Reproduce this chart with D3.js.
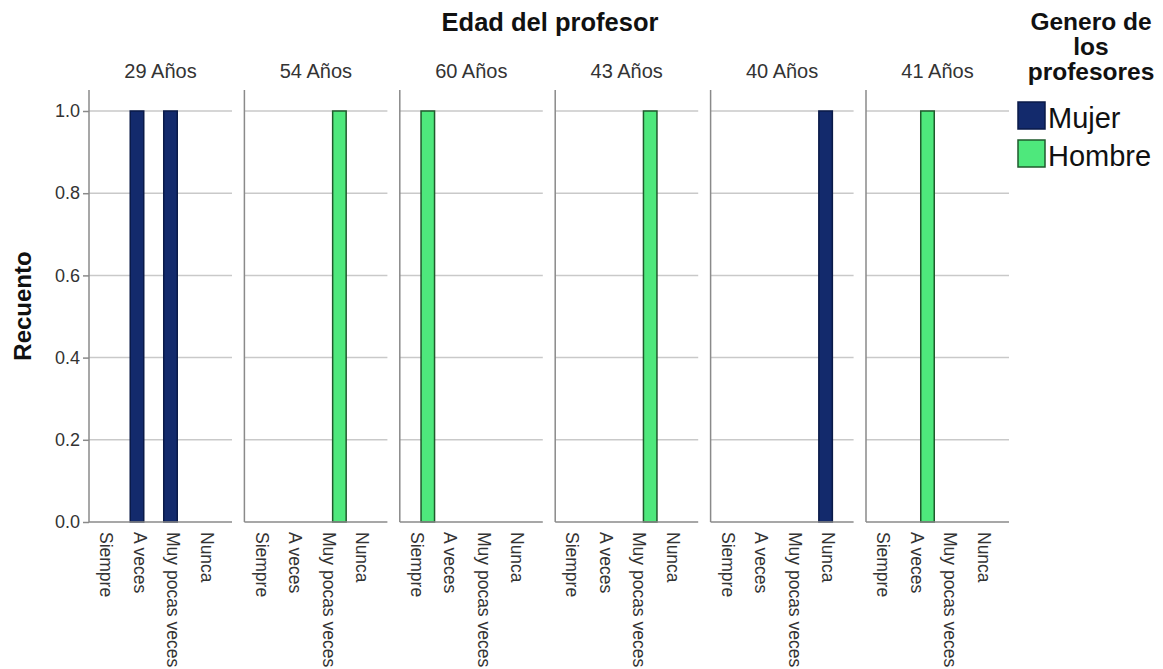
<!DOCTYPE html>
<html>
<head>
<meta charset="utf-8">
<script src="https://cdn.jsdelivr.net/npm/d3@7"></script>
<style>
  html, body { margin: 0; padding: 0; background: #ffffff; }
  svg { display: block; font-family: Arial, "Liberation Sans", sans-serif; }
</style>
</head>
<body>
<svg id="chart" width="1163" height="669"></svg>
<script>
// ---- Data ----
const ages = ["29 Años", "54 Años", "60 Años", "43 Años", "40 Años", "41 Años"];
const categories = ["Siempre", "A veces", "Muy pocas veces", "Nunca"];
const genders = ["Mujer", "Hombre"];
// counts per panel (age), per category
const mujerCounts = [
  [0, 1, 1, 0],
  [0, 0, 0, 0],
  [0, 0, 0, 0],
  [0, 0, 0, 0],
  [0, 0, 0, 1],
  [0, 0, 0, 0]
];
const hombreCounts = [
  [0, 0, 0, 0],
  [0, 0, 1, 0],
  [1, 0, 0, 0],
  [0, 0, 1, 0],
  [0, 0, 0, 0],
  [0, 1, 0, 0]
];
const yTicks = [0, 0.2, 0.4, 0.6, 0.8, 1.0];

const fills = { "Mujer": "#132a6c", "Hombre": "#4ee87c" };
const strokes = { "Mujer": "#0a1a48", "Hombre": "#1f5a2c" };

const svg = d3.select("#chart");

// ---- Scales ----
const panelScale = d3.scaleBand().domain(ages).range([89, 1009]).paddingInner(0.0798).paddingOuter(0);
const pw = panelScale.bandwidth();
const y = d3.scaleLinear().domain([0, 1]).range([522, 111]);
const axisTop = 90;

const x0 = d3.scaleBand().domain(categories).range([0, pw]).paddingInner(0).paddingOuter(0.134);
const x1 = d3.scaleBand().domain(genders).range([0, x0.bandwidth()]).paddingInner(0).paddingOuter(0.24);

// ---- Titles ----
svg.append("text")
  .attr("x", 550).attr("y", 31)
  .attr("text-anchor", "middle")
  .attr("font-size", 25.5).attr("font-weight", "bold").attr("fill", "#111")
  .text("Edad del profesor");

svg.append("text")
  .attr("transform", "translate(31,306) rotate(-90)")
  .attr("text-anchor", "middle")
  .attr("font-size", 24).attr("font-weight", "bold").attr("fill", "#111")
  .text("Recuento");

// ---- Panels ----
ages.forEach((age, i) => {
  const left = panelScale(age);
  const g = svg.append("g").attr("transform", `translate(${left},0)`);

  // gridlines
  g.selectAll("line.grid").data(yTicks.filter(t => t > 0)).enter().append("line")
    .attr("x1", 0).attr("x2", pw)
    .attr("y1", d => y(d)).attr("y2", d => y(d))
    .attr("stroke", "#c9c9c9").attr("stroke-width", 1.5);

  // header
  g.append("text")
    .attr("x", pw / 2).attr("y", 78)
    .attr("text-anchor", "middle")
    .attr("font-size", 20).attr("fill", "#333")
    .text(age);

  // bars
  const rows = [];
  categories.forEach((c, j) => {
    rows.push({ cat: c, gender: "Mujer", value: mujerCounts[i][j] });
    rows.push({ cat: c, gender: "Hombre", value: hombreCounts[i][j] });
  });
  g.selectAll("rect.bar").data(rows.filter(r => r.value > 0)).enter().append("rect")
    .attr("x", d => x0(d.cat) + x1(d.gender))
    .attr("width", x1.bandwidth())
    .attr("y", d => y(d.value))
    .attr("height", d => y(0) - y(d.value))
    .attr("fill", d => fills[d.gender])
    .attr("stroke", d => strokes[d.gender])
    .attr("stroke-width", 1.5);

  // axes lines
  g.append("line").attr("x1", 0).attr("x2", 0).attr("y1", axisTop).attr("y2", y(0))
    .attr("stroke", "#8a8a8a").attr("stroke-width", 1.5);
  g.append("line").attr("x1", 0).attr("x2", pw).attr("y1", y(0)).attr("y2", y(0))
    .attr("stroke", "#8a8a8a").attr("stroke-width", 1.5);

  // x labels
  g.selectAll("text.xl").data(categories).enter().append("text")
    .attr("transform", d => `translate(${x0(d) + x0.bandwidth() / 2 - 4},532) rotate(90)`)
    .attr("dy", "0.35em")
    .attr("text-anchor", "start")
    .attr("font-size", 17.5).attr("fill", "#333")
    .text(d => d);
});

// ---- Y axis (first panel) ----
const yAxis = d3.axisLeft(y).tickValues(yTicks).tickFormat(d3.format(".1f")).tickSize(6).tickPadding(3);
const ya = svg.append("g").attr("transform", `translate(${panelScale(ages[0])},0)`).call(yAxis);
ya.select(".domain").remove();
ya.selectAll(".tick line").attr("stroke", "#8a8a8a").attr("stroke-width", 1.5);
ya.selectAll(".tick text").attr("font-size", 18).attr("fill", "#333").attr("font-family", "Arial, 'Liberation Sans', sans-serif");

// ---- Legend ----
const legTitle = ["Genero de", "los", "profesores"];
svg.append("g").selectAll("text").data(legTitle).enter().append("text")
  .attr("x", 1091).attr("y", (d, i) => 30 + i * 25)
  .attr("text-anchor", "middle")
  .attr("font-size", 24.5).attr("font-weight", "bold").attr("fill", "#111")
  .text(d => d);

const leg = svg.append("g").selectAll("g").data(genders).enter().append("g")
  .attr("transform", (d, i) => `translate(1018,${102 + i * 38})`);
leg.append("rect").attr("width", 27).attr("height", 27)
  .attr("fill", d => fills[d]).attr("stroke", d => strokes[d]).attr("stroke-width", 1.5);
leg.append("text").attr("x", 30).attr("y", 26)
  .attr("font-size", 29).attr("fill", "#111")
  .text(d => d);
</script>
</body>
</html>
